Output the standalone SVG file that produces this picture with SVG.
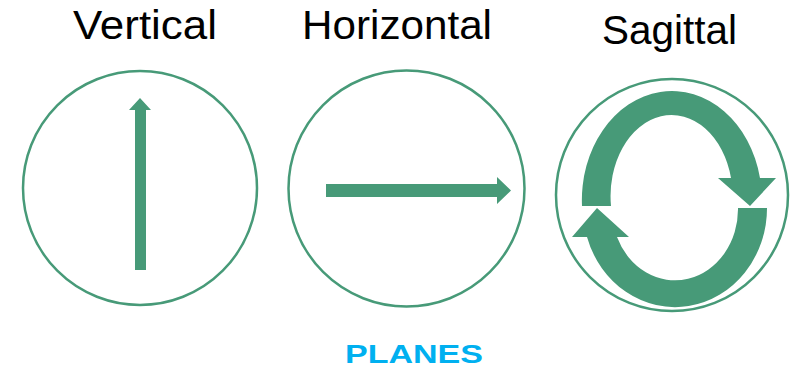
<svg xmlns="http://www.w3.org/2000/svg" width="800" height="380" viewBox="0 0 800 380">
  <style>
    .ring { fill: #ffffff; stroke: #479a78; stroke-width: 2.5; }
    .shape { fill: #479a78; stroke: none; }
    .title { font-family: "Liberation Sans", Arial, sans-serif; font-size: 40px; fill: #000000; text-anchor: middle; }
    .caption { font-family: "Liberation Sans", Arial, sans-serif; font-size: 25px; font-weight: bold; fill: #00b0f0; text-anchor: middle; }
  </style>
  <rect width="800" height="380" fill="#ffffff"/>

  <g id="vertical">
    <text class="title" x="145" y="39" textLength="144" lengthAdjust="spacingAndGlyphs">Vertical</text>
    <circle class="ring" cx="140" cy="188" r="117"/>
    <path class="shape" d="M135,270 L135,110 L129,110 L140,98 L151,110 L146,110 L146,270 Z"/>
  </g>

  <g id="horizontal">
    <text class="title" x="397" y="39" textLength="190" lengthAdjust="spacingAndGlyphs">Horizontal</text>
    <circle class="ring" cx="406.5" cy="188.5" r="118"/>
    <path class="shape" d="M326,184 L497,184 L497,177 L511,190.5 L497,204 L497,197 L326,197 Z"/>
  </g>

  <g id="sagittal">
    <text class="title" x="669.5" y="44" textLength="135" lengthAdjust="spacingAndGlyphs">Sagittal</text>
    <circle class="ring" cx="672" cy="195" r="116"/>
    <!-- upper curved arrow, pointing down on the right -->
    <path class="shape" d="M582,206 A90,109 0 0 1 760,178 L776,178 L750,206 L718,178 L731,178 A61,81 0 0 0 611,206 Z"/>
    <!-- lower curved arrow, pointing up on the left -->
    <path class="shape" d="M767,208 A92,99 0 0 1 587,237 L572,237 L597,208 L629,237 L617,237 A63,71 0 0 0 738,208 Z"/>
  </g>

  <text class="caption" x="414" y="363" textLength="138" lengthAdjust="spacingAndGlyphs">PLANES</text>
</svg>
